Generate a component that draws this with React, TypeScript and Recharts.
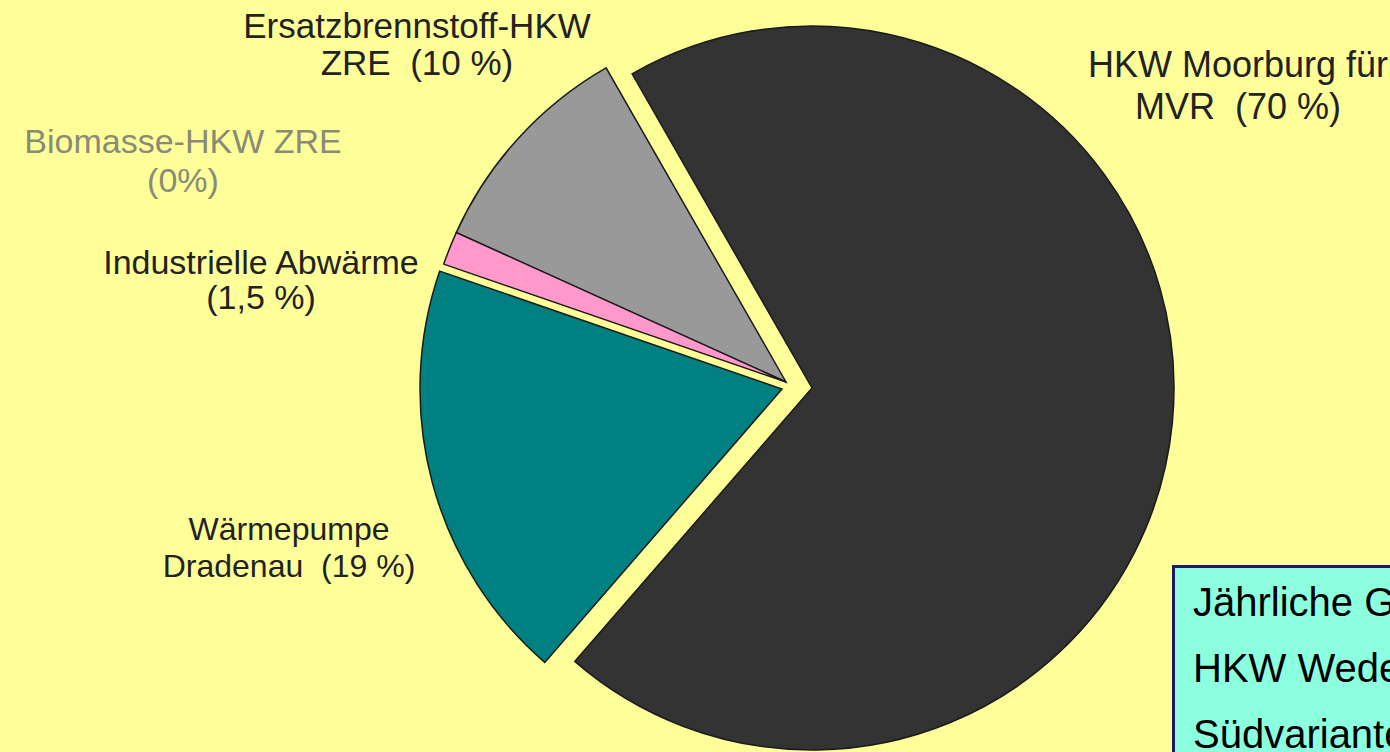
import { PieChart, Pie, Cell } from 'recharts';

// Wärmeaufbringung Südvariante — Anteile in %
const names = [
  'Ersatzbrennstoff-HKW ZRE',
  'Biomasse-HKW ZRE',
  'Industrielle Abwärme',
  'Wärmepumpe Dradenau',
  'HKW Moorburg für MVR',
];
const shares = [10, 0, 1.5, 19, 70];
const colors = ['#999999', '#999999', '#ff99cc', '#008080', '#333333'];

const labelLines = [
  ['Ersatzbrennstoff-HKW', 'ZRE  (10 %)'],
  ['Biomasse-HKW ZRE', '(0%)'],
  ['Industrielle Abwärme', '(1,5 %)'],
  ['Wärmepumpe', 'Dradenau  (19 %)'],
  ['HKW Moorburg für', 'MVR  (70 %)'],
];

const boxLines = ['Jährliche Gesamtwärme', 'HKW Wedel-Ersatz', 'Südvariante'];

const data = names.map((name, i) => ({ name, value: shares[i] }));

// which slices each pie layer shows (exploded pieces)
const layers = [
  { show: [0, 1, 2], cx: 786, cy: 382 },
  { show: [3], cx: 782, cy: 389 },
  { show: [4], cx: 812, cy: 388 },
];

const labelStyle = [
  { x: 417, y: [38, 75], size: 35, color: '#222' },
  { x: 183, y: [153, 192], size: 34, color: '#8a8a78' },
  { x: 261, y: [274, 309], size: 34, color: '#222' },
  { x: 289, y: [540, 577], size: 32, color: '#222' },
  { x: 1238, y: [77, 119], size: 36, color: '#222' },
];

export default function App() {
  const font = '"Liberation Sans", Arial, sans-serif';
  return (
    <div style={{ position: 'fixed', left: 0, top: 0, width: 1390, height: 752, background: '#ffff99', overflow: 'hidden', fontFamily: font }}>
      <PieChart width={1390} height={752} margin={{ top: 0, right: 0, bottom: 0, left: 0 }}>
        {layers.map((l, li) => (
          <Pie
            key={li}
            data={data}
            dataKey="value"
            nameKey="name"
            cx={l.cx}
            cy={l.cy}
            innerRadius={0}
            outerRadius={362}
            startAngle={119.8}
            endAngle={479.8}
            isAnimationActive={false}
            labelLine={false}
          >
            {data.map((d, i) => (
              l.show.includes(i)
                ? <Cell key={d.name} fill={colors[i]} stroke="#1a1a1a" strokeWidth={1.5} />
                : <Cell key={d.name} fill="none" stroke="none" />
            ))}
          </Pie>
        ))}
      </PieChart>

      {/* slice labels */}
      <svg width={1390} height={752} style={{ position: 'absolute', left: 0, top: 0, pointerEvents: 'none' }}>
        {labelLines.map((lines, i) => (
          lines.map((t, j) => (
            <text
              key={`${i}-${j}`}
              x={labelStyle[i].x}
              y={labelStyle[i].y[j]}
              textAnchor="middle"
              fontSize={labelStyle[i].size}
              fill={labelStyle[i].color}
              fontFamily={font}
              style={{ whiteSpace: 'pre' }}
            >
              {t}
            </text>
          ))
        ))}
      </svg>

      {/* info box, clipped at the right/bottom edge */}
      <div style={{ position: 'absolute', left: 1172, top: 565, width: 400, height: 260, boxSizing: 'border-box', border: '3px solid #1b1b66', background: '#8cffdf', paddingTop: 1, paddingLeft: 18 }}>
        {boxLines.map(t => (
          <div key={t} style={{ fontSize: 40, lineHeight: '66px', color: '#000', whiteSpace: 'nowrap' }}>{t}</div>
        ))}
      </div>
    </div>
  );
}
